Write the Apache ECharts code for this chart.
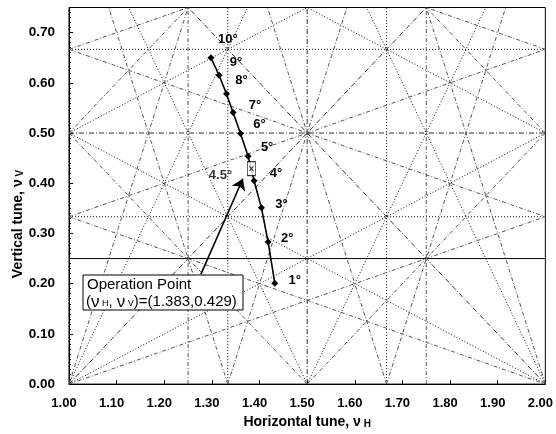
<!DOCTYPE html>
<html>
<head>
<meta charset="utf-8">
<script src="https://cdn.jsdelivr.net/npm/echarts@6/dist/echarts.min.js"></script>
<style>html,body{margin:0;padding:0;background:#fff}#c{width:556px;height:434px}</style>
</head>
<body>
<div id="c"></div>
<script>
// ---- data ----
const xTicks = [1.0, 1.1, 1.2, 1.3, 1.4, 1.5, 1.6, 1.7, 1.8, 1.9, 2.0];
const yTicks = [0.0, 0.1, 0.2, 0.3, 0.4, 0.5, 0.6, 0.7];
// resonance lines m*nuH + n*nuV = p
const resonances = [
  [2,0,3],[0,2,1],[1,1,2],[1,-1,1],
  [3,0,4],[3,0,5],[0,3,1],[0,3,2],[2,1,3],[2,1,4],[2,-1,2],[2,-1,3],[1,2,2],[1,2,3],[1,-2,0],[1,-2,1],
  [4,0,5],[4,0,7],[0,4,1],[3,1,4],[3,1,5],[3,1,6],[3,-1,3],[3,-1,4],[3,-1,5],
  [1,3,2],[1,3,3],[1,3,4],[1,-3,0],[1,-3,1],[1,-3,-1],[2,2,3],[2,2,5],[2,-2,1],[2,-2,3]
];
// tune path (1 deg ... 10 deg)
const degLabels = ['1°','2°','3°','4°','5°','6°','7°','8°','9°','10°'];
const nuH = [1.432, 1.418, 1.404, 1.3885, 1.376, 1.360, 1.3444, 1.3306, 1.315, 1.298];
const nuV = [0.201, 0.283, 0.351, 0.405, 0.454, 0.499, 0.541, 0.578, 0.615, 0.650];
const opLabel = '4.5°';
const opPoint = [1.383, 0.429];
const arrowFrom = [1.277, 0.219];
const arrowTo = [1.365, 0.409];

// ---- styles ----
const labelOffsets = [[20,-3],[19,-4],[20,-3],[22,-7],[19,-9],[19,-9],[22,-7],[15,-13],[17,-13],[17,-18]];
const FONT = 'Liberation Sans';
const XMIN=1, XMAX=2, YMIN=0, YMAX=0.75;

function clip(m,n,p){
  const pts=[];
  const add=(x,y)=>{ if(x<XMIN-1e-9||x>XMAX+1e-9||y<YMIN-1e-9||y>YMAX+1e-9) return;
    if(!pts.some(q=>Math.abs(q[0]-x)<1e-9&&Math.abs(q[1]-y)<1e-9)) pts.push([x,y]); };
  if(n!==0){ [XMIN,XMAX].forEach(x=>add(x,(p-m*x)/n)); }
  if(m!==0){ [YMIN,YMAX].forEach(y=>add((p-n*y)/m,y)); }
  return pts.length>=2 ? pts.slice(0,2) : null;
}

const series = [];
resonances.forEach(r=>{
  const seg = clip(r[0],r[1],r[2]);
  if(!seg) return;
  const order = Math.abs(r[0])+Math.abs(r[1]);
  let ls;
  if(r[0]===0 && r[1]===4 && r[2]===1) ls={color:'#000',width:1,type:'solid'};
  else if(order===2) ls={color:'#333',width:1,type:[5,2,1,2]};
  else if(order===3) ls={color:'#111',width:1,type:[1,2]};
  else ls={color:'#555',width:1,type:[4,2,1,2]};
  series.push({type:'line',data:seg,symbol:'none',silent:true,lineStyle:ls,z:1,animation:false});
});

series.push({
  type:'line', z:5, animation:false,
  data: nuH.map((x,i)=>({value:[x,nuV[i]], label:{show:true, formatter:degLabels[i], offset:labelOffsets[i]}})),
  symbol:'diamond', symbolSize:7,
  itemStyle:{color:'#000'},
  lineStyle:{color:'#000',width:1.6},
  label:{position:'inside', color:'#000', fontFamily:FONT, fontWeight:'bold', fontSize:13}
});
series.push({
  type:'scatter', z:6, animation:false,
  data:[{value:opPoint, label:{show:true, formatter:opLabel, offset:[-31,7], position:'inside', color:'#000', fontFamily:FONT, fontWeight:'bold', fontSize:13}}],
  symbol:'path://M0,0 L6,0 L6,12 L0,12 Z M1.5,4 L4.5,8 M4.5,4 L1.5,8',
  symbolSize:[8,14],
  itemStyle:{color:'rgba(255,255,255,1)', borderColor:'#000', borderWidth:1}
});
series.push({
  type:'lines', coordinateSystem:'cartesian2d', z:7, animation:false,
  data:[{coords:[arrowFrom, arrowTo]}],
  symbol:['none','arrow'], symbolSize:11,
  lineStyle:{color:'#000', width:1.6, opacity:1}
});

const chart = echarts.init(document.getElementById('c'), null, {renderer:'canvas'});
chart.setOption({
  animation:false,
  backgroundColor:'#fff',
  grid:{left:69, right:10, top:7.5, bottom:47, show:true, borderColor:'#000', borderWidth:1, backgroundColor:'transparent'},
  xAxis:{
    type:'value', min:XMIN, max:XMAX, interval:0.1,
    name:'{a|Horizontal tune, ν}{s| H}', nameLocation:'middle', nameGap:28,
    nameTextStyle:{rich:{a:{fontFamily:FONT,fontWeight:'bold',fontSize:14,color:'#000'}, s:{fontFamily:FONT,fontWeight:'bold',fontSize:10,color:'#000',verticalAlign:'bottom',padding:[4,0,0,0]}}},
    axisLine:{lineStyle:{color:'#000'}},
    axisTick:{inside:true,length:4,lineStyle:{color:'#000'}},
    splitLine:{show:false},
    axisLabel:{margin:13,color:'#000',fontFamily:FONT,fontWeight:'bold',fontSize:13,padding:[0,10,0,0],
      formatter:v=>{const t=xTicks.find(q=>Math.abs(q-v)<1e-6); return t===undefined?'':t.toFixed(2);}}
  },
  yAxis:{
    type:'value', min:YMIN, max:YMAX, interval:0.1,
    axisLine:{lineStyle:{color:'#000'}},
    axisTick:{inside:true,length:4,lineStyle:{color:'#000'}},
    minorTick:{show:true,splitNumber:10,length:2,lineStyle:{color:'#000'}},
    splitLine:{show:false},
    axisLabel:{margin:14,color:'#000',fontFamily:FONT,fontWeight:'bold',fontSize:13.5,
      formatter:v=>{const t=yTicks.find(q=>Math.abs(q-v)<1e-6); return t===undefined?'':t.toFixed(2);}}
  },
  graphic:[
    {type:'text', x:18, y:224, rotation:Math.PI/2, z:10,
      style:{text:'{a|Vertical tune, ν}{s| V}', align:'center', verticalAlign:'middle',
        rich:{a:{fontFamily:FONT,fontWeight:'bold',fontSize:14,fill:'#000'}, s:{fontFamily:FONT,fontWeight:'bold',fontSize:10,fill:'#000',padding:[4,0,0,0]}}}},
    {type:'rect', z:8, shape:{x:83, y:275, width:160, height:35},
      style:{fill:'#fff', stroke:'#000', lineWidth:1}},
    {type:'text', z:9, x:87, y:285,
      style:{text:'Operation Point', fontFamily:FONT, fontSize:15, fill:'#000', verticalAlign:'middle'}},
    {type:'text', z:9, x:86, y:302,
      style:{text:'{a|(}{n|ν}{s| H}{a|, }{n|ν}{s| V}{a|)=(1.383,0.429)}', verticalAlign:'middle',
        rich:{a:{fontFamily:FONT,fontSize:15,fill:'#000'}, n:{fontFamily:FONT,fontSize:17,fill:'#000'}, s:{fontFamily:FONT,fontSize:9,fill:'#000',padding:[4,0,0,0]}}}}
  ],
  series: series
});
</script>
</body>
</html>
